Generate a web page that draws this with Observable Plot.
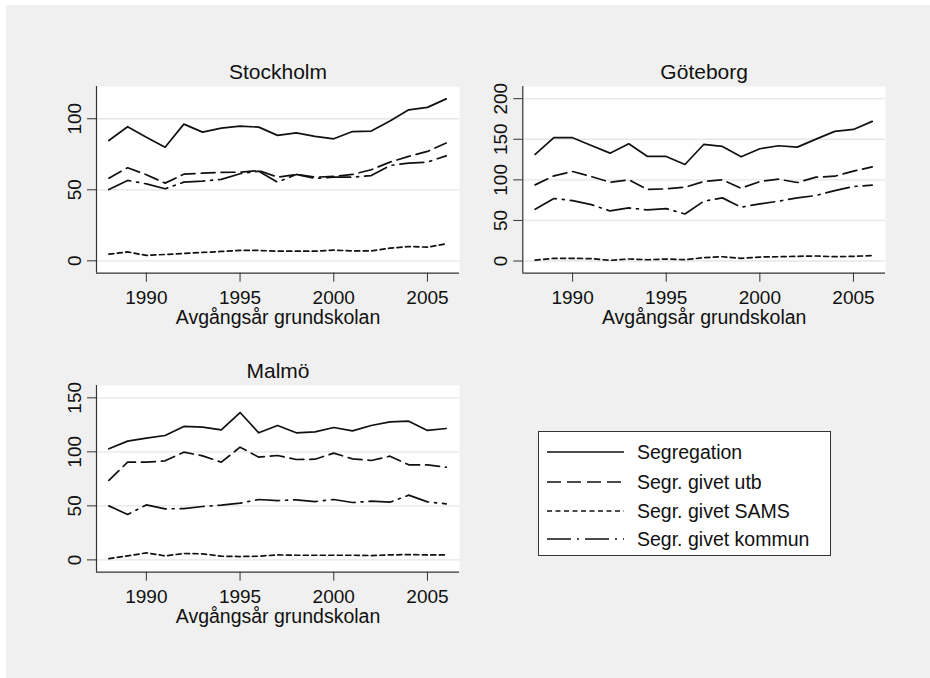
<!DOCTYPE html>
<html>
<head>
<meta charset="utf-8">
<script src="https://cdn.jsdelivr.net/npm/d3@7"></script>
<script src="https://cdn.jsdelivr.net/npm/@observablehq/plot@0.6"></script>
<style>
  body { margin: 0; background: #ffffff; }
  #root { position: relative; width: 930px; height: 678px; background: #ffffff; overflow: hidden;
          font-family: "Liberation Sans", Arial, Helvetica, sans-serif; color: #111; }
  #bg { position: absolute; left: 6px; top: 5px; width: 924px; height: 673px; background: #f0f0f0; }
  .panel { position: absolute; }
  #legend { position: absolute; left: 538px; top: 431px; width: 291px; height: 123px;
            background: #ffffff; border: 1px solid #333; box-sizing: content-box; }
  .lrow { position: absolute; left: 0; height: 24px; display: flex; align-items: center; }
  .lrow svg { margin-left: 8px; }
  .lrow span { margin-left: 13px; font-size: 19.5px; line-height: 24px; white-space: nowrap; }
</style>
</head>
<body>
<div id="root"><div id="bg"></div></div>
<script>
// ---------- data ----------
const years = [1988, 1989, 1990, 1991, 1992, 1993, 1994, 1995, 1996, 1997, 1998, 1999, 2000, 2001, 2002, 2003, 2004, 2005, 2006];
const seriesNames = ["Segregation", "Segr. givet utb", "Segr. givet SAMS", "Segr. givet kommun"];
const panelTitles = ["Stockholm", "Göteborg", "Malmö"];
const xAxisTitle = "Avgångsår grundskolan";
const xTickValues = [1990, 1995, 2000, 2005];

const stockholmSeg    = [84.7, 94.4, 87.0, 80.0, 96.2, 90.6, 93.4, 94.8, 94.1, 88.3, 90.1, 87.6, 85.9, 91.0, 91.3, 98.4, 106.3, 108.0, 114.0];
const stockholmUtb    = [58.2, 65.5, 60.6, 54.7, 61.0, 61.7, 62.2, 62.4, 63.6, 58.9, 60.8, 58.9, 59.4, 60.8, 64.1, 69.5, 73.5, 77.0, 82.9];
const stockholmSams   = [4.7, 6.3, 3.8, 4.5, 5.2, 5.9, 6.6, 7.3, 7.3, 6.8, 6.8, 6.8, 7.5, 7.0, 7.0, 8.9, 10.1, 9.6, 12.0];
const stockholmKommun = [50.2, 56.6, 54.2, 50.7, 55.4, 56.1, 57.3, 61.3, 63.1, 55.4, 60.8, 58.0, 58.9, 58.9, 60.0, 67.1, 68.8, 69.5, 73.9];

const goteborgSeg    = [131.3, 151.9, 151.9, 142.4, 132.9, 144.4, 128.8, 128.8, 118.9, 143.6, 141.2, 128.4, 138.3, 142.0, 140.3, 150.2, 159.7, 162.1, 172.0];
const goteborgUtb    = [93.8, 104.9, 110.3, 104.1, 97.1, 100.0, 88.1, 88.9, 90.9, 97.9, 100.0, 89.7, 97.9, 100.8, 96.7, 103.3, 104.5, 110.7, 116.0];
const goteborgSams   = [1.2, 3.3, 3.3, 2.9, 0.8, 2.5, 1.6, 2.5, 1.6, 4.1, 5.3, 3.3, 4.9, 5.3, 5.8, 6.2, 5.3, 5.8, 6.6];
const goteborgKommun = [63.8, 77.0, 74.5, 69.5, 61.7, 65.4, 63.0, 64.6, 58.0, 73.7, 77.8, 66.3, 70.4, 73.7, 77.8, 80.7, 86.8, 91.8, 93.4];

const malmoSeg    = [102.8, 109.9, 112.7, 115.1, 123.5, 122.8, 120.4, 136.4, 117.6, 124.4, 117.6, 118.5, 122.5, 119.4, 124.4, 127.8, 128.4, 119.8, 121.6];
const malmoUtb    = [73.5, 90.4, 90.4, 91.7, 99.7, 96.3, 90.4, 104.3, 95.1, 96.6, 92.9, 93.2, 98.8, 93.5, 92.0, 96.0, 88.0, 88.0, 85.8];
const malmoSams   = [1.2, 3.7, 6.5, 3.7, 5.9, 5.6, 3.4, 3.1, 3.4, 4.6, 4.3, 4.3, 4.3, 4.3, 4.0, 4.6, 4.9, 4.6, 4.6];
const malmoKommun = [50.0, 42.0, 50.9, 47.2, 47.5, 49.4, 50.6, 52.5, 55.9, 54.9, 55.6, 54.0, 55.9, 53.1, 54.3, 53.4, 59.9, 53.7, 51.9];

const stockholmYTicks = [0, 50, 100];
const goteborgYTicks  = [0, 50, 100, 150, 200];
const malmoYTicks     = [0, 50, 100, 150];

// ---------- styling / layout ----------
const dashes = [null, "14,6", "5,3.5", "24,6,2,6"];
const lineColor = "#111111";
const axisColor = "#333333";
const fontFamily = '"Liberation Sans", Arial, Helvetica, sans-serif';
const xDomain = [1987.34, 2006.71];

function toRows(arrays) {
  const rows = [];
  arrays.forEach((vals, si) => vals.forEach((v, i) => rows.push({series: seriesNames[si], year: years[i], value: v})));
  return rows;
}

const panels = [
  {title: panelTitles[0], data: [stockholmSeg, stockholmUtb, stockholmSams, stockholmKommun], yTicks: stockholmYTicks,
   yDomain: [-8.7, 122.7], left: 0, top: 40, width: 470, height: 300, mL: 96, mR: 11, mT: 46, mB: 67.3},
  {title: panelTitles[1], data: [goteborgSeg, goteborgUtb, goteborgSams, goteborgKommun], yTicks: goteborgYTicks,
   yDomain: [-15, 215], left: 470, top: 40, width: 430, height: 300, mL: 52.3, mR: 15, mT: 46, mB: 67.3},
  {title: panelTitles[2], data: [malmoSeg, malmoUtb, malmoSams, malmoKommun], yTicks: malmoYTicks,
   yDomain: [-11.4, 161.4], left: 0, top: 340, width: 470, height: 300, mL: 96, mR: 11, mT: 45, mB: 68.3}
];

const root = document.getElementById("root");

panels.forEach(p => {
  const rows = toRows(p.data);
  const lineMarks = seriesNames.map((name, si) =>
    Plot.line(rows.filter(r => r.series === name), {
      x: "year", y: "value", stroke: lineColor, strokeWidth: 1.7,
      strokeDasharray: dashes[si] ?? undefined, strokeLinejoin: "round"
    }));
  const svg = Plot.plot({
    width: p.width, height: p.height,
    marginLeft: p.mL, marginRight: p.mR, marginTop: p.mT, marginBottom: p.mB,
    style: {background: "transparent", fontFamily, fontSize: "19px", color: "#111", overflow: "visible"},
    x: {domain: xDomain, label: null},
    y: {domain: p.yDomain, label: null},
    marks: [
      Plot.frame({fill: "white", stroke: null}),
      Plot.gridY(p.yTicks, {stroke: "#e6e6e6", strokeOpacity: 1, strokeWidth: 1.3}),
      ...lineMarks,
      Plot.ruleX([xDomain[0]], {stroke: axisColor, strokeWidth: 1.2}),
      Plot.ruleY([p.yDomain[0]], {stroke: axisColor, strokeWidth: 1.2}),
      Plot.axisX(xTickValues, {tickSize: 9, tickPadding: 8, tickFormat: d => String(d), fontSize: 19,
                               stroke: axisColor, fill: "#111", label: null}),
      Plot.axisY(p.yTicks, {tickSize: 9, tickPadding: 6.5, tickRotate: -90, fontSize: 19,
                            stroke: axisColor, fill: "#111", label: null}),
      Plot.text([p.title], {frameAnchor: "top", dy: -7.7, lineAnchor: "bottom", fontSize: 21, fill: "#111"}),
      Plot.text([xAxisTitle], {frameAnchor: "bottom", dy: 50.6, lineAnchor: "bottom", fontSize: 19.5, fill: "#111"})
    ]
  });
  svg.classList.add("panel");
  svg.style.left = p.left + "px";
  svg.style.top = p.top + "px";
  root.appendChild(svg);
});

// ---------- legend ----------
const legend = document.createElement("div");
legend.id = "legend";
const rowCenters = [19.7, 49.7, 79, 107.3];
seriesNames.forEach((name, si) => {
  const row = document.createElement("div");
  row.className = "lrow";
  row.style.top = (rowCenters[si] - 12) + "px";
  const s = d3.create("svg").attr("width", 77).attr("height", 24);
  s.append("line").attr("x1", 0).attr("x2", 77).attr("y1", 12).attr("y2", 12)
    .attr("stroke", lineColor).attr("stroke-width", 1.7)
    .attr("stroke-dasharray", dashes[si]);
  row.appendChild(s.node());
  const t = document.createElement("span");
  t.textContent = name;
  row.appendChild(t);
  legend.appendChild(row);
});
root.appendChild(legend);
</script>
</body>
</html>
